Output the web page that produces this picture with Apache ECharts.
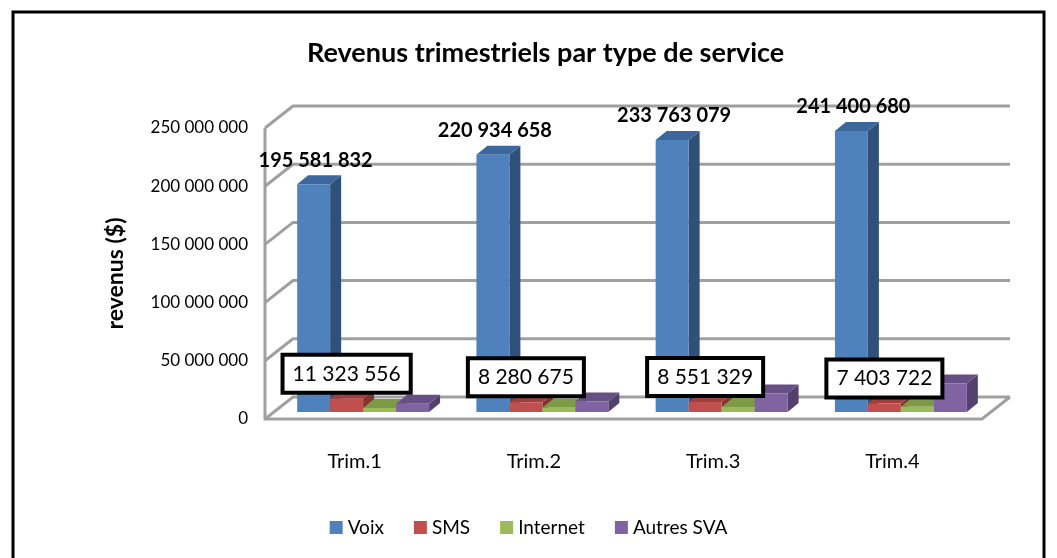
<!DOCTYPE html>
<html>
<head>
<meta charset="utf-8">
<script src="https://cdn.jsdelivr.net/npm/echarts@6/dist/echarts.min.js"></script>
<style>
  html, body { margin: 0; padding: 0; background: #fff; }
  #chart { width: 1057px; height: 558px; }
</style>
</head>
<body>
<div id="chart"></div>
<script>
  var categories = ['Trim.1', 'Trim.2', 'Trim.3', 'Trim.4'];
  var voix = [195581832, 220934658, 233763079, 241400680];
  var sms = [11323556, 8280675, 8551329, 7403722];
  var internet = [3400000, 3600000, 4200000, 4500000];
  var autres = [7000000, 9000000, 15800000, 24400000];
  var yTicks = [0, 50000000, 100000000, 150000000, 200000000, 250000000];

  // pseudo 3D geometry (pixels)
  var WALL_DX = 28, WALL_DY = -22;   // back wall offset
  var PLANE_DX = 8.5, PLANE_DY = -7; // where the bars stand
  var BAR_DX = 11, BAR_DY = -9;      // bar depth
  var FONT = 'Lato, "Open Sans", sans-serif';

  var palette = [
    { front: '#4F81BD', top: '#3C679C', side: '#2F5079' },
    { front: '#C0504D', top: '#A03F3C', side: '#843331' },
    { front: '#9BBB59', top: '#7D9A46', side: '#667F38' },
    { front: '#8064A2', top: '#664F85', side: '#53406D' }
  ];

  function fmt(v) {
    return String(v).replace(/\B(?=(\d{3})+(?!\d))/g, ' ');
  }

  var chart = echarts.init(document.getElementById('chart'));

  function barRenderer(idx) {
    return function (params, api) {
      var cat = api.value(0), v = api.value(1);
      var base = api.coord([cat, 0]);
      var top = api.coord([cat, v]);
      var band = api.size([1, 0])[0];
      var bw = band * 0.184;
      var x0 = base[0] + PLANE_DX + (idx - 2) * bw;
      var x1 = x0 + bw;
      var yb = base[1] + PLANE_DY;
      var yt = top[1] + PLANE_DY;
      var c = palette[idx];
      var children = [
        {
          type: 'polygon',
          shape: { points: [[x1, yt], [x1 + BAR_DX, yt + BAR_DY], [x1 + BAR_DX, yb + BAR_DY], [x1, yb]] },
          style: { fill: c.side }
        },
        {
          type: 'polygon',
          shape: { points: [[x0, yt], [x1, yt], [x1 + BAR_DX, yt + BAR_DY], [x0 + BAR_DX, yt + BAR_DY]] },
          style: { fill: c.top }
        },
        {
          type: 'rect',
          shape: { x: x0, y: yt, width: bw, height: yb - yt },
          style: { fill: c.front }
        }
      ];
      if (idx === 0) {
        children.push({
          type: 'text',
          z2: 100,
          style: {
            text: fmt(v), x: (x0 + x1) / 2 + 2, y: yt - 24,
            align: 'center', verticalAlign: 'middle',
            font: 'bold 20px ' + FONT, fill: '#000'
          }
        });
      }
      if (idx === 1) {
        children.push({
          type: 'text',
          z2: 100,
          style: {
            text: fmt(v), x: (x0 + x1) / 2, y: yt - 25,
            align: 'center', verticalAlign: 'middle',
            font: '21px ' + FONT, fill: '#000', lineHeight: 24,
            backgroundColor: '#fff', borderColor: '#000', borderWidth: 4,
            padding: [5, 8]
          }
        });
      }
      return { type: 'group', children: children };
    };
  }

  function wallRenderer(params, api) {
    var v = api.value(1);
    var L = params.coordSys.x;
    var R = params.coordSys.x + params.coordSys.width;
    var y = api.coord([0, v])[1];
    var lineStyle = { stroke: '#a0a0a0', lineWidth: 3, fill: null };
    var children = [{
      type: 'polyline',
      shape: { points: [[L, y], [L + WALL_DX, y + WALL_DY], [R + WALL_DX, y + WALL_DY]] },
      style: lineStyle
    }];
    if (v === 0) {
      var yTop = api.coord([0, yTicks[yTicks.length - 1]])[1];
      children.push({
        type: 'polyline',
        shape: { points: [[L, yTop], [L, y], [R, y], [R + WALL_DX, y + WALL_DY]] },
        style: lineStyle
      });
    }
    return { type: 'group', children: children };
  }

  function toData(arr) {
    return arr.map(function (v, i) { return [i, v]; });
  }

  var names = ['Voix', 'SMS', 'Internet', 'Autres SVA'];
  var values = [voix, sms, internet, autres];

  var series = [{
    type: 'custom',
    name: 'walls',
    silent: true,
    z: 1,
    renderItem: wallRenderer,
    encode: { x: 0, y: 1 },
    data: yTicks.map(function (v) { return [0, v]; })
  }];
  names.forEach(function (n, i) {
    series.push({
      type: 'custom',
      name: n,
      z: 2,
      itemStyle: { color: palette[i].front },
      renderItem: barRenderer(i),
      encode: { x: 0, y: 1 },
      data: toData(values[i])
    });
  });

  var option = {
    backgroundColor: '#fff',
    animation: false,
    title: {
      text: 'Revenus trimestriels par type de service',
      left: 302,
      top: 35,
      textStyle: { fontFamily: FONT, fontSize: 27, fontWeight: 'bold', color: '#000' }
    },
    graphic: [{
      type: 'rect',
      shape: { x: 13, y: 12, width: 1031, height: 600 },
      style: { fill: 'none', stroke: '#000', lineWidth: 3 },
      silent: true
    }],
    legend: {
      data: names,
      bottom: 16,
      left: 'center',
      icon: 'rect',
      itemWidth: 13,
      itemHeight: 13,
      itemGap: 30,
      textStyle: { fontFamily: FONT, fontSize: 19, color: '#000' }
    },
    grid: { left: 265, right: 75, top: 128, bottom: 139 },
    xAxis: {
      type: 'category',
      data: categories,
      axisLine: { show: false },
      axisTick: { show: false },
      axisLabel: { margin: 33, fontFamily: FONT, fontSize: 20, color: '#000' }
    },
    yAxis: {
      type: 'value',
      min: 0,
      max: 250000000,
      interval: 50000000,
      name: 'revenus ($)',
      nameLocation: 'middle',
      nameGap: 138,
      nameRotate: 90,
      nameTextStyle: { fontFamily: FONT, fontSize: 23, fontWeight: 'bold', color: '#000' },
      axisLine: { show: false },
      axisTick: { show: false },
      splitLine: { show: false },
      axisLabel: {
        margin: 17, fontFamily: FONT, fontSize: 17, color: '#000',
        formatter: function (v) { return fmt(v); }
      }
    },
    series: series
  };

  chart.setOption(option);
</script>
</body>
</html>
